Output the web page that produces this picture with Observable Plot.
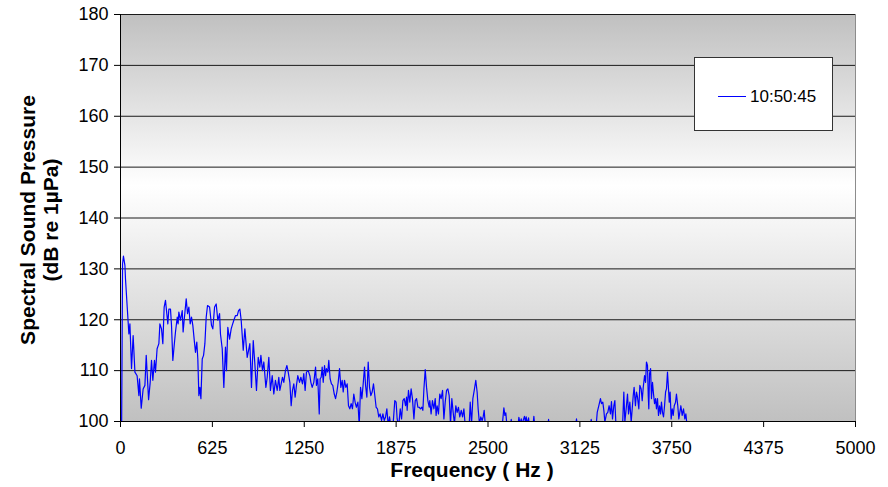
<!DOCTYPE html>
<html><head><meta charset="utf-8">
<script src="https://cdn.jsdelivr.net/npm/d3@7"></script>
<script src="https://cdn.jsdelivr.net/npm/@observablehq/plot@0.6"></script>
<style>
body{margin:0;background:#fff;}
#wrap{position:relative;width:888px;height:487px;font-family:"Liberation Sans",Arial,sans-serif;}
#legend{position:absolute;left:694px;top:57px;width:137px;height:72px;background:#fff;border:1px solid #333;}
#legend .sw{position:absolute;left:23px;top:38px;width:28px;height:0;border-top:1.2px solid #0000ff;}
#legend .lb{position:absolute;left:55px;top:29px;font-size:17px;line-height:20px;color:#000;}
</style></head>
<body><div id="wrap"></div>
<script>
const seriesName = "10:50:45";
const yTicks = [100,110,120,130,140,150,160,170,180];
const xTicks = [0,625,1250,1875,2500,3125,3750,4375,5000];
const freqs = [0,14,20,30,34,45,57,64,75,86,98,113,125,129,141,154,166,175,181,191,202,211,220,231,238,249,261,268,279,288,297,306,313,322,329,340,347,356,365,374,386,392,397,408,420,426,435,447,456,465,474,483,492,503,510,519,526,533,540,547,556,565,574,583,592,606,619,628,640,651,662,674,680,692,703,714,721,730,742,753,760,771,782,794,803,812,821,835,846,862,880,891,903,914,925,937,948,955,966,975,989,998,1009,1020,1032,1043,1054,1066,1077,1084,1093,1102,1111,1122,1132,1141,1152,1161,1170,1179,1188,1197,1206,1218,1227,1238,1247,1256,1265,1277,1288,1295,1304,1315,1327,1333,1342,1352,1358,1365,1372,1379,1388,1395,1401,1410,1417,1426,1435,1444,1454,1463,1472,1481,1490,1499,1508,1515,1524,1533,1542,1551,1560,1569,1578,1587,1596,1605,1615,1624,1633,1642,1651,1660,1667,1676,1685,1694,1703,1712,1721,1730,1739,1748,1757,1766,1776,1785,1794,1803,1812,1821,1830,1839,1853,1866,1875,1882,1893,1903,1912,1921,1930,1939,1946,1950,1959,1968,1977,1986,1996,2005,2014,2023,2032,2041,2050,2057,2064,2073,2082,2091,2100,2104,2113,2122,2132,2141,2147,2154,2163,2172,2181,2191,2200,2209,2218,2227,2236,2245,2254,2263,2272,2281,2290,2299,2308,2318,2327,2336,2345,2358,2372,2379,2388,2397,2408,2417,2426,2433,2442,2451,2460,2467,2474,2481,2495,2520,2550,2580,2596,2608,2615,2621,2630,2651,2658,2664,2703,2710,2719,2726,2732,2748,2755,2760,2766,2776,2782,2805,2812,2819,2860,2905,2912,2918,3000,3095,3102,3109,3150,3195,3202,3209,3236,3243,3254,3265,3272,3281,3288,3295,3306,3315,3324,3333,3340,3347,3356,3363,3370,3383,3401,3415,3424,3431,3440,3449,3456,3465,3474,3481,3488,3494,3503,3510,3517,3526,3533,3542,3549,3556,3565,3572,3578,3585,3590,3594,3599,3606,3612,3619,3626,3633,3640,3646,3653,3660,3667,3674,3680,3687,3694,3701,3708,3714,3721,3728,3733,3739,3746,3753,3760,3767,3776,3782,3791,3798,3805,3812,3821,3830,3839,3846,3855,3870];
const levels = [60,131,132.5,130.7,128.0,122.8,117.2,119.2,110.4,116.9,109.7,109.0,105.1,108.4,102.6,106.4,107.1,113.0,109.7,104.3,107.7,112.0,108.1,112.0,109.7,114.3,115.3,119.2,118.2,115.3,122.5,123.8,121.8,119.2,122.1,122.1,118.9,112.0,114.9,117.6,120.5,119.2,121.5,119.9,121.8,117.6,120.5,124.1,121.2,122.5,119.2,120.5,118.9,115.6,113.6,115.6,112.3,105.1,106.7,104.5,112.3,113.0,115.3,120.5,122.8,122.5,118.9,118.2,122.5,123.1,119.9,121.2,117.2,114.3,106.7,114.6,110.0,118.5,116.2,118.2,118.9,119.9,120.8,120.8,121.8,122.1,119.9,114.0,118.2,112.6,115.3,106.7,115.9,111.3,106.1,112.6,110.7,113.0,110.0,111.7,106.7,108.7,112.6,106.1,109.0,105.4,108.1,106.1,108.7,106.1,107.4,108.7,107.7,110.0,111.0,109.7,107.7,103.1,106.1,107.4,104.8,107.1,109.0,107.7,108.7,107.4,109.4,106.1,109.7,110.0,109.0,107.7,106.7,107.7,110.7,107.1,108.4,101.5,108.4,108.7,110.7,107.7,111.0,109.0,110.4,109.7,112.0,108.4,107.4,107.1,105.4,104.5,105.8,107.7,110.4,106.7,108.1,105.8,108.1,106.7,107.4,103.1,102.5,103.5,102.5,105.4,103.8,102.8,103.8,99.2,106.7,104.5,107.4,110.7,107.1,104.8,111.7,106.7,105.1,105.8,107.4,105.1,102.8,102.5,100.9,101.5,100.2,101.5,100.2,100.9,102.5,99.2,100.9,99.2,98.9,104.1,103.8,100.5,99.2,102.5,100.5,104.1,104.5,103.1,104.8,102.2,106.1,103.8,106.4,104.5,100.5,104.1,104.5,102.8,102.8,102.5,102.8,102.2,106.4,110.2,106.7,104.1,102.8,104.1,101.5,104.1,102.5,104.5,101.2,103.1,101.5,105.4,104.5,106.1,100.5,103.8,106.1,106.4,105.1,99.5,104.5,101.8,99.5,103.1,101.8,102.8,100.9,102.2,100.9,102.5,99.2,98.9,99.2,103.8,99.5,104.5,106.4,108.1,105.8,102.5,99.5,100.9,100.2,100.9,102.2,99.5,97.5,97.0,97.5,98.0,98.9,102.7,101.2,101.7,98.9,98.9,100.4,98.9,98.9,100.8,99.5,100.5,99.5,101.0,99.9,100.9,99.5,100.7,98.9,98.9,101.0,98.9,97.5,98.9,100.4,98.9,97.5,98.9,100.5,98.9,97.5,98.9,100.4,98.9,99.2,101.8,103.1,104.5,103.5,103.8,102.2,99.9,101.5,101.8,103.1,101.5,103.9,100.5,103.1,104.1,99.5,98.6,98.2,98.9,105.8,99.9,102.5,105.4,101.5,103.8,99.9,102.5,105.1,106.7,103.1,105.8,104.8,102.5,107.1,106.4,104.1,106.7,109.0,107.7,111.7,111.0,105.1,102.5,109.4,110.4,104.5,107.7,105.4,103.5,104.5,102.5,104.5,101.2,103.1,101.5,103.8,101.8,100.9,103.1,105.8,106.4,109.7,106.4,103.8,105.8,100.5,102.5,101.2,103.1,103.8,105.4,103.1,100.5,101.8,103.1,101.2,102.5,100.5,101.5,98.9,97];

const data = freqs.map((f, i) => ({f, v: levels[i]}));
const font = '"Liberation Sans", Arial, sans-serif';

const chart = Plot.plot({
  width: 888, height: 487,
  marginLeft: 120, marginRight: 33, marginTop: 14, marginBottom: 66,
  style: {fontFamily: font, fontSize: "18px", color: "#000", background: "transparent", overflow: "visible"},
  x: {domain: [0, 5000]},
  y: {domain: [100, 180]},
  marks: [
    Plot.frame({fill: "url(#bg)", stroke: "#8c8c8c"}),
    Plot.ruleY(yTicks.slice(1), {stroke: "#1a1a1a", strokeWidth: 1}),
    Plot.line(data, {x: "f", y: "v", stroke: "#0000ff", strokeWidth: 1.2, clip: true}),
    Plot.ruleX([0], {stroke: "#000"}),
    Plot.ruleY([100], {stroke: "#000"}),
    Plot.axisY(yTicks, {tickSize: 6, tickPadding: 6, label: null, fontSize: 18, tickFormat: d => String(d)}),
    Plot.axisX(xTicks, {tickSize: 6, tickPadding: 14, label: null, fontSize: 18, tickFormat: d => String(d)}),
    Plot.text(["Frequency ( Hz )"], {frameAnchor: "bottom", textAnchor: "middle", lineAnchor: "middle", dx: -16, dy: 49, fontWeight: "bold", fontSize: 21}),
    Plot.text(["Spectral Sound Pressure\n(dB re 1µPa)"], {frameAnchor: "left", textAnchor: "middle", lineAnchor: "middle", dx: -81, dy: 2, rotate: -90, fontWeight: "bold", fontSize: 21, lineHeight: 1.1})
  ]
});

d3.select(chart).insert("defs", ":first-child").html(
  '<linearGradient id="bg" x1="0" y1="0" x2="0" y2="1">' +
  '<stop offset="0" stop-color="#c0c0c0"/><stop offset="0.42" stop-color="#ffffff"/><stop offset="1" stop-color="#c0c0c0"/>' +
  '</linearGradient>');

const wrap = document.getElementById("wrap");
wrap.appendChild(chart);
const legend = document.createElement("div");
legend.id = "legend";
legend.innerHTML = '<div class="sw"></div><div class="lb"></div>';
legend.querySelector(".lb").textContent = seriesName;
wrap.appendChild(legend);
</script>
</body></html>
